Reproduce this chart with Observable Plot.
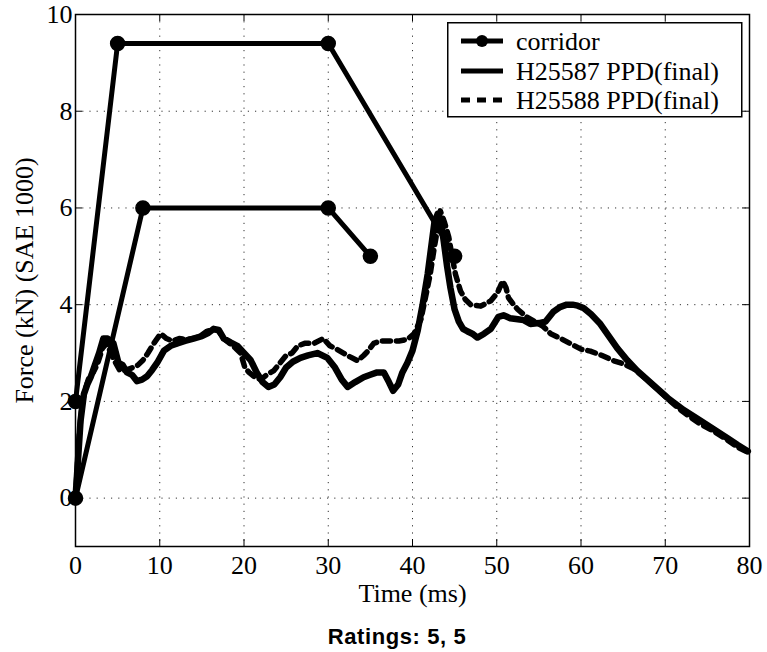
<!DOCTYPE html>
<html>
<head>
<meta charset="utf-8">
<script src="https://cdn.jsdelivr.net/npm/d3@7"></script>
<script src="https://cdn.jsdelivr.net/npm/@observablehq/plot@0.6"></script>
<style>
  body { margin: 0; background: #fff; overflow: hidden; }
  #wrap { position: relative; width: 767px; height: 652px; background: #fff; }
  #legend { position: absolute; left: 447px; top: 22px; }
  #caption { position: absolute; left: 27px; width: 740px; top: 626px; text-align: center;
    font: bold 22px "Liberation Sans", Arial, sans-serif; letter-spacing: 0.6px; line-height: 22px; color: #000; }
</style>
</head>
<body>
<div id="wrap"><div id="caption">Ratings: 5, 5</div></div>
<script>
// ---- data ----
const corridorUpperT = [0, 5, 30, 45];
const corridorUpperF = [2, 9.4, 9.4, 5];
const corridorLowerT = [0, 8, 30, 35];
const corridorLowerF = [0, 6, 6, 5];

const h25587T = [0,0.3,0.6,1,1.4,1.8,2.3,2.8,3.3,3.8,4.5,5.1,5.6,6.1,6.7,7.3,7.9,8.5,9.1,9.7,10.5,11.3,12.1,13,14,15,15.8,16.4,17,17.6,18.4,19.2,20,20.8,21.5,22.2,22.9,23.6,24.3,25,25.8,26.7,27.6,28.7,29.9,30.8,31.6,32.3,33.2,34.2,35,35.8,36.6,37.2,37.7,38.3,38.8,39.4,40,40.6,41.2,41.8,42.3,42.6,43,43.4,43.7,44.1,44.5,45,45.5,46,46.5,47.1,47.7,48.5,49.3,50.2,50.8,51.6,52.5,53.2,54,55,55.8,56.7,57.5,58.3,59,59.6,60.3,61.2,62.3,63.3,64.3,65.5,66.7,68.5,70.3,72.2,74.2,75.8,77.4,78.6,79.8];
const h25587F = [0,0.8,1.6,2.15,2.35,2.5,2.75,3.0,3.3,3.3,3.2,2.8,2.75,2.6,2.55,2.42,2.45,2.52,2.65,2.8,3.05,3.15,3.2,3.25,3.3,3.35,3.42,3.5,3.48,3.3,3.22,3.15,3.0,2.85,2.6,2.4,2.3,2.35,2.5,2.7,2.82,2.9,2.95,3.0,2.9,2.7,2.45,2.3,2.4,2.5,2.55,2.6,2.6,2.4,2.22,2.35,2.6,2.8,3.05,3.45,4.0,4.63,5.3,5.7,5.88,5.7,5.32,4.8,4.35,3.9,3.65,3.5,3.45,3.4,3.32,3.4,3.5,3.75,3.78,3.72,3.7,3.68,3.6,3.62,3.65,3.85,3.95,4.0,4.0,3.98,3.93,3.8,3.6,3.35,3.1,2.85,2.63,2.35,2.07,1.82,1.6,1.42,1.24,1.1,0.97];

const h25588T = [0,0.2,0.4,0.7,1,1.6,2.1,2.6,3.2,3.7,4.2,4.6,5.3,6,6.8,7.4,8,8.6,9.3,10.1,10.8,11.5,12.3,13.2,14,14.8,15.6,16.4,17,17.6,18.3,19,19.6,20.1,20.6,21.3,22,22.7,23.5,24.3,25,25.7,26.4,27.2,28.3,29.4,30.2,31,31.8,32.6,33.5,34.2,34.7,35.4,36.2,37.4,38.4,39.4,40.2,41,41.6,42.1,42.6,43,43.3,43.8,44.3,44.7,45.1,45.7,46.3,46.9,48.1,49.3,50.1,50.7,51.1,51.4,52,52.5,53.5,54.5,55.5,56.4,57.6,58.8,60,61.1,62.5,63.9,65,66.2,67.5,68.8,70.3,72,74,75.8,77.4,78.6,79.8];
const h25588F = [0,0.6,1.2,1.8,2.15,2.5,2.6,2.77,3.1,3.2,3.0,2.85,2.63,2.65,2.7,2.75,2.85,3.0,3.2,3.4,3.3,3.25,3.3,3.28,3.3,3.35,3.45,3.5,3.45,3.3,3.2,3.1,3.0,2.7,2.6,2.5,2.45,2.55,2.63,2.8,2.95,3.0,3.15,3.2,3.2,3.3,3.15,3.08,3.0,2.92,2.84,2.95,3.04,3.2,3.25,3.25,3.25,3.28,3.4,3.7,4.2,4.63,5.2,5.6,5.94,5.7,5.4,5.0,4.63,4.28,4.1,4.0,3.97,4.08,4.25,4.49,4.35,4.14,4.0,3.9,3.75,3.65,3.55,3.4,3.3,3.19,3.08,3.04,2.95,2.84,2.78,2.68,2.5,2.3,2.05,1.8,1.55,1.38,1.2,1.05,0.95];

const xTicks = [0, 10, 20, 30, 40, 50, 60, 70, 80];
const yTicks = [0, 2, 4, 6, 8, 10];
const seriesNames = ["corridor", "H25587 PPD(final)", "H25588 PPD(final)"];
const xLabel = "Time (ms)";
const yLabel = "Force (kN) (SAE 1000)";

// ---- tables ----
const corridor = [
  ...corridorUpperT.map((t, i) => ({t, f: corridorUpperF[i], seg: "upper"})),
  ...corridorLowerT.map((t, i) => ({t, f: corridorLowerF[i], seg: "lower"}))
];
const s1 = h25587T.map((t, i) => ({t, f: h25587F[i]}));
const s2 = h25588T.map((t, i) => ({t, f: h25588F[i]}));

const W = 767, H = 612, mL = 75, mR = 18, mT = 14, mB = 66;
const pw = W - mL - mR, ph = H - mT - mB;
const serif = "Liberation Serif, Times New Roman, Times, serif";
const gridStyle = {stroke: "#333", strokeOpacity: 1, strokeWidth: 1, strokeDasharray: "1.2,6"};

const chart = Plot.plot({
  width: W, height: H,
  marginLeft: mL, marginRight: mR, marginTop: mT, marginBottom: mB,
  style: {fontFamily: serif, fontSize: "26px", color: "black", background: "white", overflow: "visible"},
  x: {domain: [0, 80]},
  y: {domain: [-1, 10]},
  marks: [
    Plot.gridX(xTicks.filter(v => v > 0 && v < 80), gridStyle),
    Plot.gridY(yTicks.filter(v => v < 10), gridStyle),
    Plot.axisX(xTicks, {tickSize: 0, tickPadding: 9, fontSize: 26, label: xLabel, labelAnchor: "center", labelOffset: 55, labelArrow: "none"}),
    Plot.axisY(yTicks, {tickSize: 0, tickPadding: 3, fontSize: 26, label: yLabel, labelAnchor: "center", labelOffset: 61, labelArrow: "none"}),
    Plot.tickX(xTicks, {x: d => d, insetTop: ph - 7, stroke: "black"}),
    Plot.tickX(xTicks, {x: d => d, insetBottom: ph - 7, stroke: "black"}),
    Plot.tickY(yTicks, {y: d => d, insetRight: pw - 7, stroke: "black"}),
    Plot.tickY(yTicks, {y: d => d, insetLeft: pw - 7, stroke: "black"}),
    Plot.line(s2, {x: "t", y: "f", stroke: "black", strokeWidth: 5.5, strokeDasharray: "8,6"}),
    Plot.line(s1, {x: "t", y: "f", stroke: "black", strokeWidth: 6.5, strokeLinejoin: "round", strokeLinecap: "round"}),
    Plot.line(corridor, {x: "t", y: "f", z: "seg", stroke: "black", strokeWidth: 5}),
    Plot.dot(corridor, {x: "t", y: "f", r: 7, fill: "black", stroke: "black"}),
    Plot.frame({stroke: "black", strokeWidth: 1.5})
  ]
});
const wrap = document.getElementById("wrap");
wrap.insertBefore(chart, wrap.firstChild);

// ---- legend ----
const lg = d3.select(wrap).append("svg").attr("id", "legend")
  .attr("width", 296).attr("height", 96);
lg.append("rect").attr("x", 0.75).attr("y", 0.75).attr("width", 294).attr("height", 94)
  .attr("fill", "white").attr("stroke", "black").attr("stroke-width", 1.5);
const rowsY = [19, 49, 78];
seriesNames.forEach((name, i) => {
  const y = rowsY[i];
  const ln = lg.append("line").attr("x1", 14).attr("x2", 56).attr("y1", y).attr("y2", y)
    .attr("stroke", "black").attr("stroke-width", 5);
  if (i === 2) ln.attr("stroke-dasharray", "9,7");
  if (i === 0) lg.append("circle").attr("cx", 35).attr("cy", y).attr("r", 6).attr("fill", "black");
  lg.append("text").attr("x", 69).attr("y", y + 9)
    .style("font-family", serif).style("font-size", "26px")
    .attr("fill", "black").text(name);
});
</script>
</body>
</html>
